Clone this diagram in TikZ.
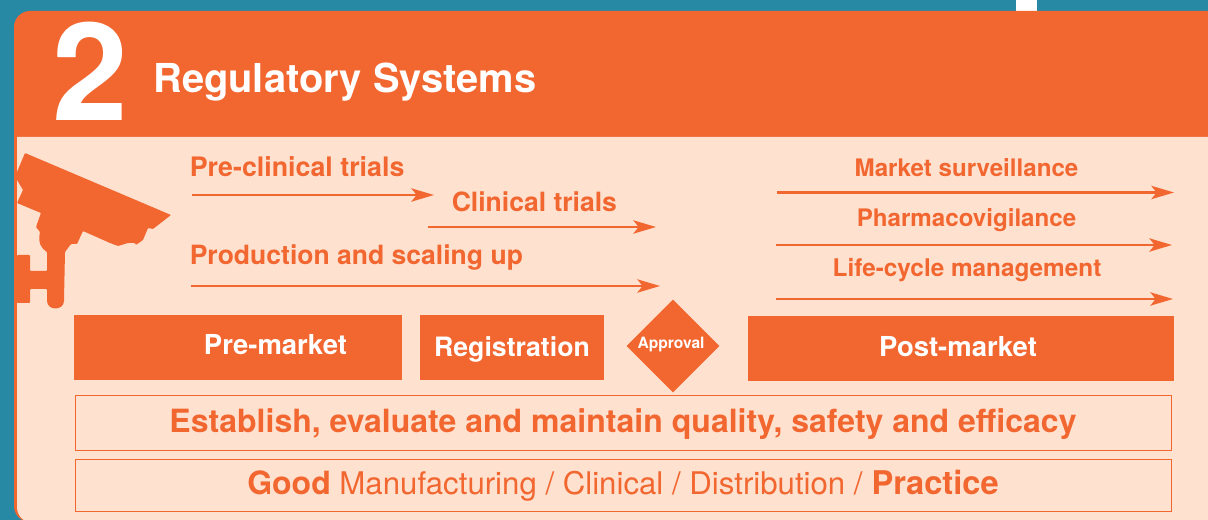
\documentclass[tikz,border=0pt]{standalone}
\usepackage{fontspec}
\setmainfont{TeX Gyre Heros}
\usetikzlibrary{arrows.meta,shapes.geometric}
\definecolor{org}{HTML}{F26630}
\definecolor{pale}{HTML}{FFE1D0}
\definecolor{teal}{HTML}{2889A5}
\newcommand{\fs}[1]{\fontsize{#1}{#1}\selectfont}
\tikzset{
 x=0.75pt,y=-0.75pt,
 lab/.style={text=org,font=\bfseries\fs{19.9},inner sep=0pt,anchor=base},
 rlab/.style={text=org,font=\bfseries\fs{18.1},inner sep=0pt,anchor=base},
 solidbox/.style={fill=org,draw=none,inner sep=0pt,anchor=center},
 boxtext/.style={text=white,font=\bfseries\fs{20.6},inner sep=0pt,anchor=base},
 framebox/.style={draw=org,line width=1pt,fill=none,inner sep=0pt,anchor=center},
 arr/.style={org,line width=1.6pt,-{Stealth[length=17pt,width=10pt,inset=4pt]}},
}
\begin{document}
\begin{tikzpicture}
\useasboundingbox (0,0) rectangle (1208,520);
\clip (0,0) rectangle (1208,520);
\fill[teal] (0,0) rectangle (1208,520);
\fill[white] (1016,0) rectangle (1037,12);
% panel
\fill[org,rounded corners=12pt] (1240,11) -- (14,11) -- (14,522) -- (1240,522) -- cycle;
\fill[pale,rounded corners=12pt] (1240,137) [sharp corners] -- (17,137) [rounded corners=12pt] -- (17,523) -- (1240,523) -- cycle;
% header
\node[text=white,font=\bfseries\fs{102},inner sep=0pt,anchor=base] (num) at (90,121) {2};
\node[text=white,font=\bfseries\fs{29.9},inner sep=0pt,anchor=base west] (title) at (153,92.5) {Regulatory Systems};
% camera
\fill[org,rounded corners=0.6pt] (25,153) -- (171,215) -- (153,229) -- (148,228) -- (143,240) -- (136,245) -- (135,243) -- (128,243) -- (118,246) -- (110,243) -- (83,231) -- (77,244) -- (71,244) -- (65,252) -- (64,300) .. controls (64,311) and (47,311) .. (47,300) -- (47,289) -- (30,289) -- (30,303) -- (17,303) -- (17,255) -- (30,255) -- (30,271) -- (47,271) -- (47,252) .. controls (41,248) and (38,243) .. (40,232) -- (36,227) -- (41,213) -- (17,203) -- (23,190) -- (17,180) -- (17,172) -- cycle;
% labels
\node[lab,font=\bfseries\fs{20.1},anchor=base west] (l1) at (189.5,176.5) {Pre-clinical trials};
\node[lab,anchor=base west] (l2) at (451.5,211.5) {Clinical trials};
\node[lab,anchor=base west] (l3) at (189.5,264.5) {Production and scaling up};
\node[rlab] (l4) at (966.5,176.5) {Market surveillance};
\node[rlab] (l5) at (966.5,226.5) {Pharmacovigilance};
\node[rlab,font=\bfseries\fs{18.25}] (l6) at (967,276.5) {Life-cycle management};
% arrows
\coordinate (a1s) at (192,195); \coordinate (a1e) at (434,195);
\coordinate (a2s) at (428,227); \coordinate (a2e) at (656,227);
\coordinate (a3s) at (191,286); \coordinate (a3e) at (660,286);
\coordinate (a4s) at (777,192.5); \coordinate (a4e) at (1174,192.5);
\coordinate (a5s) at (776,245); \coordinate (a5e) at (1172,245);
\coordinate (a6s) at (776,299); \coordinate (a6e) at (1173,299);
\foreach \n in {1,...,6} \draw[arr] (a\n s) -- (a\n e);
% boxes
\node[solidbox,minimum width=246pt,minimum height=48.75pt] (pre) at (238,347.5) {};
\node[boxtext] (pret) at (275.5,355) {Pre-market};
\node[solidbox,minimum width=138pt,minimum height=48.75pt] (reg) at (512,347.5) {};
\node[boxtext,font=\bfseries\fs{20}] (regt) at (512,357) {Registration};
\node[diamond,aspect=1,fill=org,inner sep=0pt,minimum width=69.75pt,minimum height=69.75pt,anchor=center] (app) at (673,346) {};
\node[boxtext,font=\bfseries\fs{11.7}] (appt) at (671,349) {Approval};
\node[solidbox,minimum width=319.5pt,minimum height=48.75pt] (post) at (961,348.5) {};
\node[boxtext] (postt) at (958,357) {Post-market};
\node[framebox,minimum width=822pt,minimum height=41.25pt] (qual) at (623.5,423) {};
\node[text=org,font=\bfseries\fs{24},inner sep=0pt,anchor=base] (qualt) at (623,433) {Establish, evaluate and maintain quality, safety and efficacy};
\node[framebox,minimum width=822pt,minimum height=39pt] (good) at (623.5,485.5) {};
\node[text=org,font=\fs{23.4},inner sep=0pt,anchor=base west] (goodt) at (247,494) {{\fs{24}\textbf{Good}} Manufacturing / Clinical / Distribution / {\fs{24.5}\textbf{Practice}}};
\end{tikzpicture}
\end{document}
